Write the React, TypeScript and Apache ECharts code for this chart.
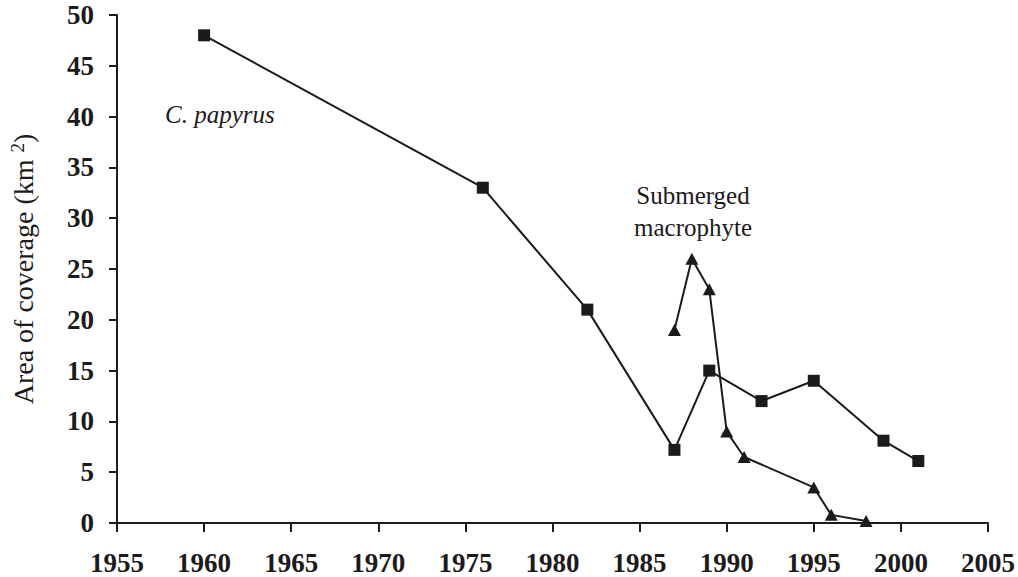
import React, { useEffect, useRef } from "react";
import * as echarts from "echarts";

const papyrusYears = [1960, 1976, 1982, 1987, 1989, 1992, 1995, 1999, 2001];
const papyrusArea = [48, 33, 21, 7.2, 15, 12, 14, 8.1, 6.1];
const submergedYears = [1987, 1988, 1989, 1990, 1991, 1995, 1996, 1998];
const submergedArea = [19, 26, 23, 9, 6.5, 3.5, 0.8, 0.2];
const xTicks = { min: 1955, max: 2005, interval: 5 };
const yTicks = { min: 0, max: 50, interval: 5 };

const FONT = "Times New Roman, Liberation Serif, DejaVu Serif, serif";
const INK = "#1c1a1b";

export default function App() {
  const ref = useRef<HTMLDivElement>(null);
  useEffect(() => {
    if (!ref.current) return;
    const chart = echarts.init(ref.current, undefined, { renderer: "svg" });
    chart.setOption({
      animation: false,
      backgroundColor: "#ffffff",
      textStyle: { fontFamily: FONT },
      grid: { left: 102, right: 29, top: 15, bottom: 54, containLabel: false },
      xAxis: {
        type: "value",
        min: xTicks.min,
        max: xTicks.max,
        interval: xTicks.interval,
        splitLine: { show: false },
        axisLine: { show: true, onZero: false, lineStyle: { color: INK, width: 2 } },
        axisTick: { show: true, length: 9, lineStyle: { color: INK, width: 2 } },
        axisLabel: {
          margin: 26,
          color: INK,
          fontFamily: FONT,
          fontWeight: "bold",
          fontSize: 27,
          formatter: (v: number) => String(v),
        },
      },
      yAxis: {
        type: "value",
        min: yTicks.min,
        max: yTicks.max,
        interval: yTicks.interval,
        splitLine: { show: false },
        axisLine: { show: true, lineStyle: { color: INK, width: 2 } },
        axisTick: { show: true, length: 8, lineStyle: { color: INK, width: 2 } },
        axisLabel: {
          margin: 23,
          color: INK,
          fontFamily: FONT,
          fontWeight: "bold",
          fontSize: 27,
          formatter: (v: number) => String(v),
        },
        name: "Area of coverage (km {sup|2})",
        nameLocation: "middle",
        nameRotate: 90,
        nameGap: 78,
        nameTextStyle: {
          color: INK,
          fontFamily: FONT,
          fontSize: 28,
          rich: {
            sup: { fontFamily: FONT, fontSize: 19, color: INK, verticalAlign: "top", padding: [0, 0, 12, 0] },
          },
        },
      },
      series: [
        {
          type: "line",
          name: "C. papyrus",
          data: papyrusYears.map((y, i) => [y, papyrusArea[i]]),
          symbol: "rect",
          symbolSize: 12,
          itemStyle: { color: INK },
          lineStyle: { color: INK, width: 2 },
        },
        {
          type: "line",
          name: "Submerged macrophyte",
          data: submergedYears.map((y, i) => [y, submergedArea[i]]),
          symbol: "triangle",
          symbolSize: [13, 12],
          itemStyle: { color: INK },
          lineStyle: { color: INK, width: 2 },
        },
      ],
      graphic: [
        {
          type: "text",
          left: 165,
          top: 102,
          style: {
            text: "C. papyrus",
            fontFamily: FONT,
            fontStyle: "italic",
            fontSize: 25,
            fill: INK,
          },
        },
        {
          type: "text",
          x: 693,
          y: 195,
          style: {
            text: "Submerged",
            fontFamily: FONT,
            fontSize: 25,
            fill: INK,
            textAlign: "center",
            textVerticalAlign: "middle",
          },
        },
        {
          type: "text",
          x: 693,
          y: 227,
          style: {
            text: "macrophyte",
            fontFamily: FONT,
            fontSize: 25,
            fill: INK,
            textAlign: "center",
            textVerticalAlign: "middle",
          },
        },
      ],
    });
    return () => chart.dispose();
  }, []);
  return (
    <div
      ref={ref}
      style={{ position: "absolute", left: 0, top: 0, width: 1018, height: 577 }}
    />
  );
}
